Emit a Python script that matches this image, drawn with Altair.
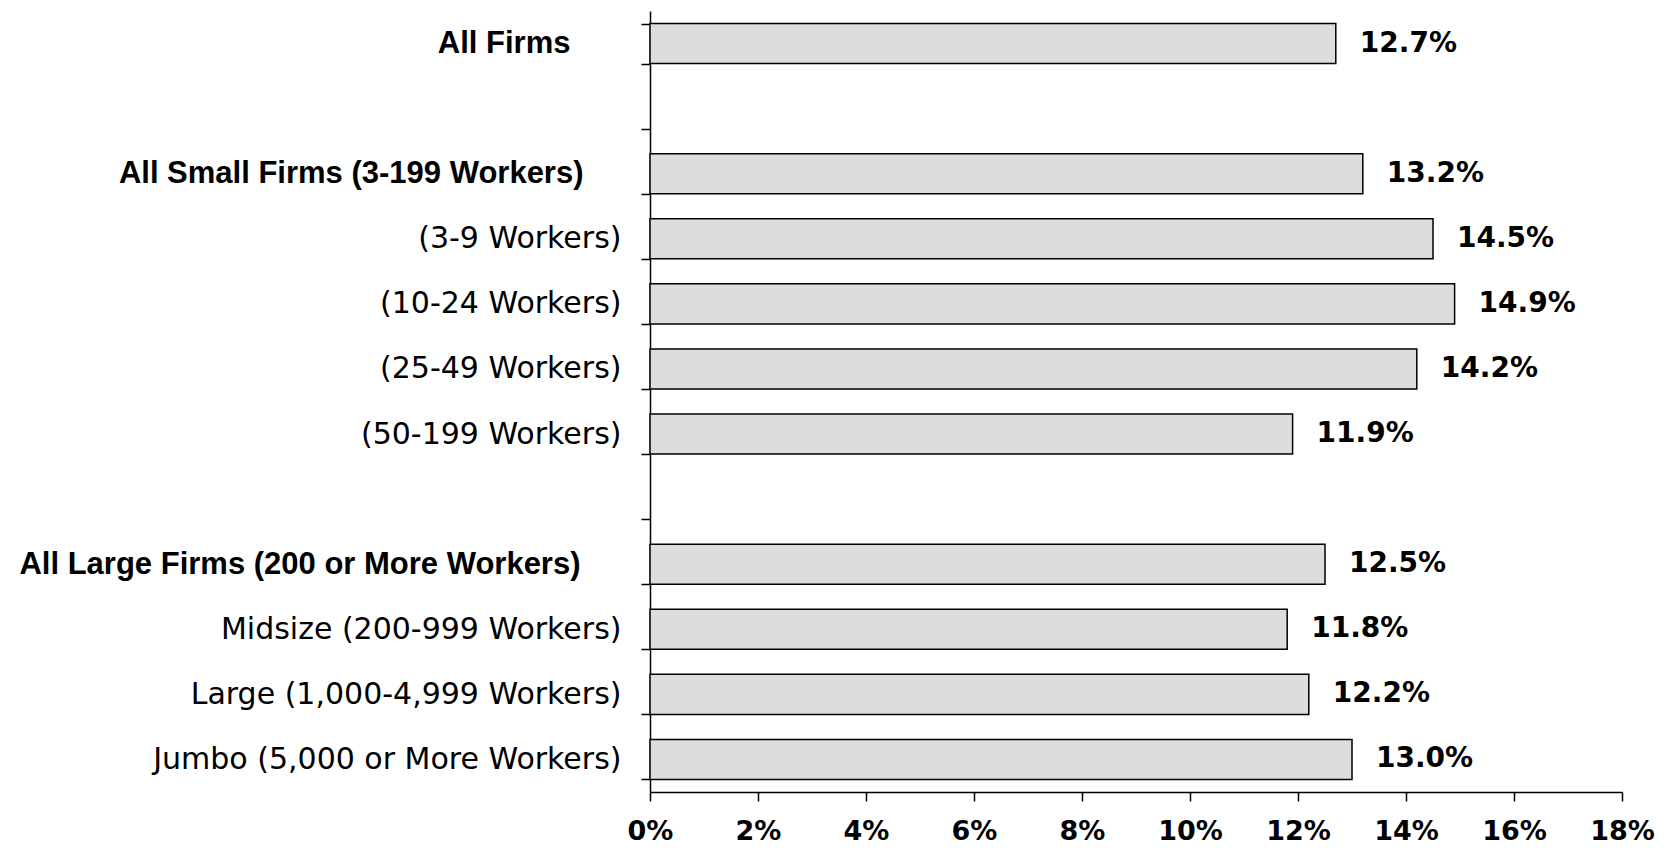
import altair as alt
import pandas as pd

# Row order of the y axis (two blank spacer rows)
categories = [
    "All Firms",
    " ",
    "All Small Firms (3-199 Workers)",
    "(3-9 Workers)",
    "(10-24 Workers)",
    "(25-49 Workers)",
    "(50-199 Workers)",
    "  ",
    "All Large Firms (200 or More Workers)",
    "Midsize (200-999 Workers)",
    "Large (1,000-4,999 Workers)",
    "Jumbo (5,000 or More Workers)",
]
bar_categories = [
    "All Firms",
    "All Small Firms (3-199 Workers)",
    "(3-9 Workers)",
    "(10-24 Workers)",
    "(25-49 Workers)",
    "(50-199 Workers)",
    "All Large Firms (200 or More Workers)",
    "Midsize (200-999 Workers)",
    "Large (1,000-4,999 Workers)",
    "Jumbo (5,000 or More Workers)",
]
values = [12.7, 13.2, 14.5, 14.9, 14.2, 11.9, 12.5, 11.8, 12.2, 13.0]
x_ticks = [0, 2, 4, 6, 8, 10, 12, 14, 16, 18]
bold_labels = ["All Firms", "All Small Firms (3-199 Workers)",
               "All Large Firms (200 or More Workers)"]

df = pd.DataFrame({"category": bar_categories, "value": values})

bold_test = "indexof(" + str(bold_labels) + ", datum.value) >= 0"

y_enc = alt.Y(
    "category:N",
    scale=alt.Scale(domain=categories, paddingInner=0.385, paddingOuter=0.1925),
    axis=alt.Axis(
        title=None,
        tickBand="extent",
        tickSize=9,
        tickWidth=1.5,
        tickColor="black",
        domainColor="black",
        domainWidth=1.5,
        labelColor="black",
        labelLimit=800,
        labelFont={"condition": {"test": bold_test, "value": "Liberation Sans"}, "value": "DejaVu Sans"},
        labelFontWeight={"condition": {"test": bold_test, "value": "bold"}, "value": "normal"},
        labelFontSize={"condition": {"test": bold_test, "value": 31}, "value": 30},
        labelPadding={"condition": [
            {"test": "datum.value == 'All Firms'", "value": 71},
            {"test": "datum.value == 'All Small Firms (3-199 Workers)'", "value": 58},
            {"test": "datum.value == 'All Large Firms (200 or More Workers)'", "value": 61},
        ], "value": 20},
    ),
)

x_enc = alt.X(
    "value:Q",
    scale=alt.Scale(domain=[0, 18], nice=False, zero=True),
    axis=alt.Axis(
        title=None,
        values=x_ticks,
        labelExpr="datum.value + '%'",
        grid=False,
        tickSize=9,
        tickWidth=1.5,
        tickColor="black",
        domainColor="black",
        domainWidth=1.5,
        labelColor="black",
        labelFont="DejaVu Sans",
        labelFontWeight="bold",
        labelFontSize=27,
        labelPadding=17,
        labelFlush=False,
        labelOverlap=False,
    ),
)

base = alt.Chart(df)

bars = base.mark_bar(fill="#dddddd", stroke="black", strokeWidth=1.5).encode(
    x=x_enc, y=y_enc
)

text = base.transform_calculate(
    label="format(datum.value, '.1f') + '%'"
).mark_text(
    align="left", baseline="middle", dx=24,
    font="DejaVu Sans", fontWeight="bold", fontSize=28, color="black",
).encode(
    x="value:Q", y=alt.Y("category:N", scale=alt.Scale(domain=categories)), text="label:N"
)

chart = alt.layer(bars, text).properties(
    width=972,
    height=781,
    autosize=alt.AutoSizeParams(type="none"),
    padding={"left": 642, "top": 3, "right": 35, "bottom": 58},
).configure(background="white").configure_view(stroke=None)

chart.save("out.html", embed_options={"renderer": "svg", "actions": False})
